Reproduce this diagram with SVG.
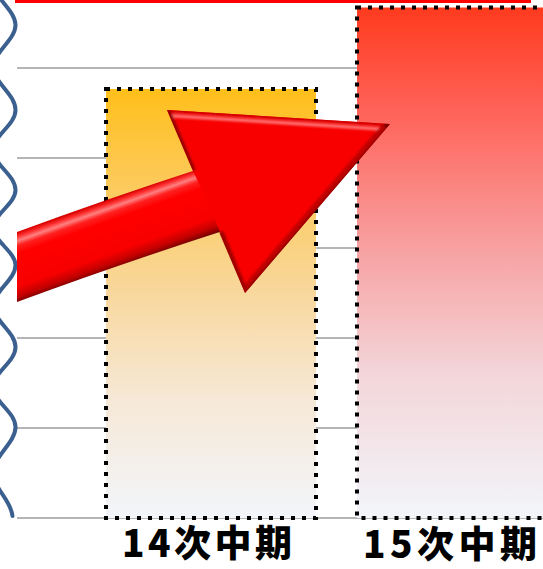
<svg xmlns="http://www.w3.org/2000/svg" width="543" height="569" viewBox="0 0 543 569">
  <style>
    .grid { stroke: #9C9C9C; stroke-width: 1.5; fill: none; }
    .bar-border { fill: none; stroke: #000; stroke-width: 4; stroke-dasharray: 4 7; }
    .wave { fill: none; stroke: #3B6090; stroke-width: 4; stroke-linecap: round; }
    .label { font-family: "Noto Sans CJK JP", "Noto Sans CJK SC", sans-serif; font-weight: 900; font-size: 37px; fill: #000; }
  </style>
  <defs>
    <linearGradient id="g14" x1="0" y1="0" x2="0" y2="1">
      <stop offset="0" stop-color="#FFBF1A"/>
      <stop offset="0.2" stop-color="#FDC955"/>
      <stop offset="0.45" stop-color="#F9D697"/>
      <stop offset="0.72" stop-color="#F6E8D6"/>
      <stop offset="1" stop-color="#F2F5FA"/>
    </linearGradient>
    <linearGradient id="g15" x1="0" y1="0" x2="0" y2="1">
      <stop offset="0" stop-color="#FF3A1E"/>
      <stop offset="0.2" stop-color="#FF6258"/>
      <stop offset="0.45" stop-color="#F89C9C"/>
      <stop offset="0.72" stop-color="#F3D6DA"/>
      <stop offset="1" stop-color="#F2F5FA"/>
    </linearGradient>
    <linearGradient id="gShaft" gradientUnits="userSpaceOnUse" x1="107" y1="200.5" x2="129.5" y2="264">
      <stop offset="0" stop-color="#D80000"/>
      <stop offset="0.06" stop-color="#FF3030"/>
      <stop offset="0.12" stop-color="#FF8080"/>
      <stop offset="0.19" stop-color="#FF2020"/>
      <stop offset="0.3" stop-color="#FF0000"/>
      <stop offset="0.76" stop-color="#F80000"/>
      <stop offset="0.9" stop-color="#C40000"/>
      <stop offset="1" stop-color="#700000"/>
    </linearGradient>
    <clipPath id="headClip">
      <path d="M167 110 L390 124 L245 293 Z"/>
    </clipPath>
    <filter id="soft" x="-10%" y="-10%" width="120%" height="120%">
      <feGaussianBlur stdDeviation="1"/>
    </filter>
  </defs>

  <g id="grid">
    <line class="grid" x1="17" y1="68" x2="543" y2="68"/>
    <line class="grid" x1="17" y1="158" x2="543" y2="158"/>
    <line class="grid" x1="17" y1="248" x2="543" y2="248"/>
    <line class="grid" x1="17" y1="338" x2="543" y2="338"/>
    <line class="grid" x1="17" y1="428" x2="543" y2="428"/>
    <line class="grid" x1="17" y1="518" x2="543" y2="518"/>
  </g>

  <rect id="top-line" x="15" y="0" width="516" height="3" fill="#FF0000"/>

  <g id="bar-14">
    <rect x="106" y="89" width="210" height="429" fill="url(#g14)"/>
    <rect class="bar-border" x="106" y="89" width="210" height="429"/>
  </g>

  <g id="bar-15">
    <rect x="357" y="7.5" width="200" height="510.5" fill="url(#g15)"/>
    <rect class="bar-border" x="357" y="7.5" width="200" height="510.5"/>
  </g>

  <g id="wave">
    <path class="wave" d="M-6.5 -17 C-6.5 -2 15.5 10 15.5 25 C15.5 40 -6.5 52 -6.5 67 C-6.5 83 15.5 94 15.5 110 C15.5 125 -6.5 135 -6.5 150 C-6.5 165 15.5 175 15.5 190 C15.5 204 -6.5 214 -6.5 228 C-6.5 241 15.5 252 15.5 265 C15.5 280 -6.5 291 -6.5 306 C-6.5 321 15.5 332 15.5 347 C15.5 362 -6.5 372 -6.5 387 C-6.5 402 15.5 412 15.5 427 C15.5 443 -6.5 456 -6.5 472 C-6.5 489 11 500 12.5 516"/>
  </g>

  <g id="connectors">
    <g id="arrow">
      <path d="M17 232 Q105 199.5 205 167 L232 228 Q120 264 17 302 Z" fill="url(#gShaft)"/>
      <path d="M167 110 L390 124 L245 293 L220 232 L205 196 L193 171 Z" fill="#F80000"/>
      <g clip-path="url(#headClip)">
        <g filter="url(#soft)">
          <line x1="167" y1="110" x2="390" y2="124" stroke="#D00000" stroke-width="4"/>
          <line x1="166.7" y1="115.5" x2="385" y2="129.2" stroke="#FF7070" stroke-width="3.5"/>
          <line x1="390" y1="124" x2="245" y2="293" stroke="#780000" stroke-width="9"/>
          <line x1="384" y1="126" x2="242" y2="291" stroke="#C00000" stroke-width="5"/>
          <line x1="167" y1="110" x2="193" y2="171" stroke="#9A0000" stroke-width="6"/>
          <line x1="245" y1="293" x2="220" y2="232" stroke="#A00000" stroke-width="7"/>
        </g>
      </g>
    </g>
  </g>

  <g id="labels">
    <text class="label" x="122" y="557" textLength="170">14次中期</text>
    <text class="label" x="363" y="558.3" textLength="174">15次中期</text>
  </g>
</svg>
